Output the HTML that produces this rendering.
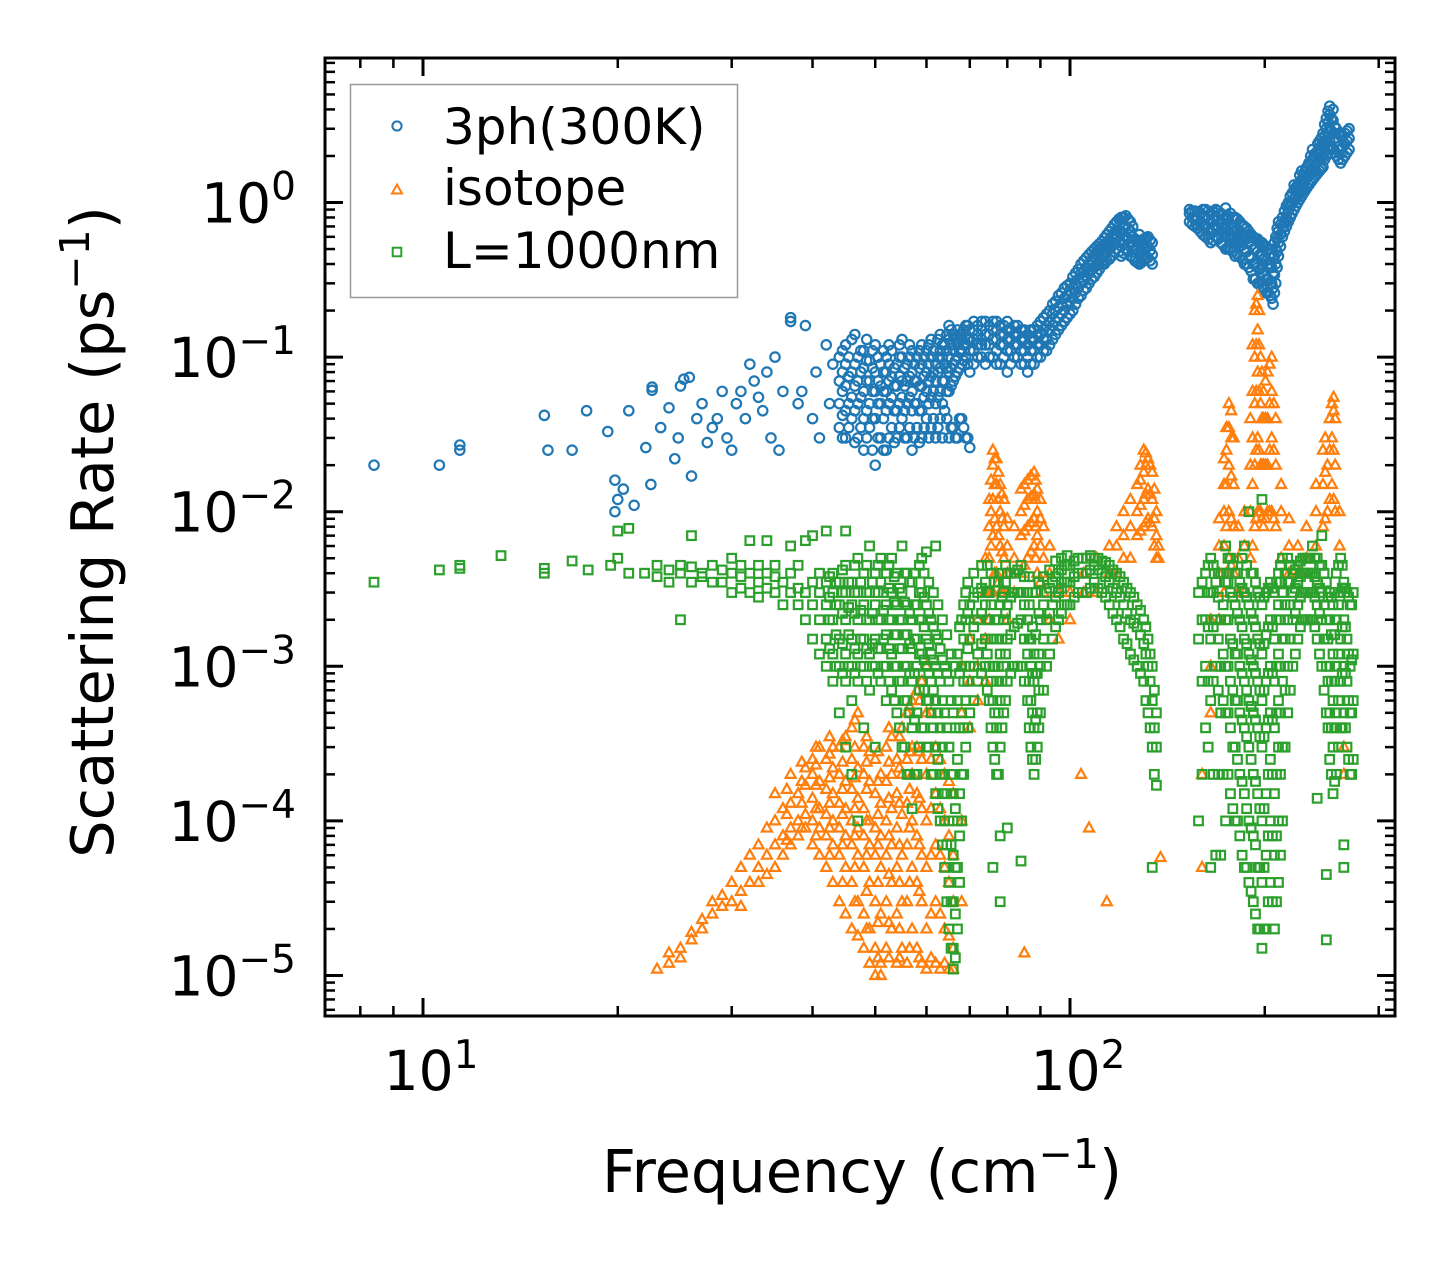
<!DOCTYPE html>
<html><head><meta charset="utf-8">
<style>
html,body{margin:0;padding:0;background:#fff;}
svg{display:block;font-family:"DejaVu Sans","Liberation Sans",sans-serif;}
</style></head>
<body>
<svg id="chart" width="1455" height="1265" viewBox="0 0 1455 1265" xmlns="http://www.w3.org/2000/svg">
<rect width="1455" height="1265" fill="#fff"/>
<g id="marks"></g>
<g id="axes"></g>
</svg>
<script>
// ---- data: each row = [frequency (cm^-1), rate1, rate2, ...] (ps^-1) ----
const threePhRows = [
[8.4,.020],[10.6,.020],[11.4,.027,.025],[15.4,.042],[15.6,.025],[17,.025],[17.9,.045],[19.3,.033],[19.8,.016,.010],[20,.012],[20.4,.014],[20.8,.045],[21.2,.011],[22.1,.026],[22.5,.015],[22.6,.064,.061],[23.3,.035],[24,.047],[24.5,.022],[24.8,.030],[25,.065],[25.3,.072],[25.8,.074],[26,.017],[26.5,.04],[27,.05],[27.5,.028],[28,.035],[28.5,.04],[29,.06],[29.5,.03],[30,.025],[30.5,.05],[31,.06],[31.5,.04],[32,.09],[32.5,.07],[33,.055],[33.5,.045],[34,.08],[34.5,.03],[35,.1],[35.5,.025],[36,.06],[37,.18,.17],[38,.05],[38.5,.06],[39,.16],[40,.04],[40.5,.08],[41,.03],[42,.12],[42.5,.05],[43,.09],
[44,.035,.05,.07,.1],[45,.03,.045,.065,.09,.12],[46,.04,.055,.08,.13],[47,.03,.05,.07,.1],[48,.025,.04,.06,.085,.11],[49,.035,.05,.07,.095],[50,.02,.04,.06,.08,.12],[51,.03,.05,.065,.09],[52,.025,.045,.06,.08,.1],[53,.035,.055,.075,.11],[54,.03,.045,.065,.09],[55,.04,.055,.07,.1,.13],[56,.03,.05,.07,.09],[57,.025,.045,.06,.08,.11],[58,.035,.05,.07,.1],[59,.03,.045,.065,.09,.12],[60,.04,.06,.08,.11],[61,.035,.055,.075,.1,.13],[62,.03,.05,.07,.09],[63,.04,.06,.085,.11,.14],[64,.045,.07,.09,.12],[65,.03,.06,.08,.1,.13,.16],[66,.035,.07,.09,.11,.14],[67,.03,.08,.1,.12,.15],[68,.04,.09,.11,.13],[69,.03,.1,.12,.14,.16],[70,.026,.08,.11,.13,.15],[72,.1,.12,.14,.16],[74,.09,.12,.14,.17],[76,.1,.13,.15,.17],[78,.09,.12,.14,.16],[80,.08,.11,.13,.15,.17],[82,.1,.12,.14,.16],[84,.09,.11,.13,.15],[86,.08,.1,.12,.14],[88,.09,.11,.13,.15],[90,.1,.12,.14,.17],[92,.11,.13,.16,.19],[94,.13,.16,.19,.22],[96,.15,.18,.21,.25],[98,.17,.2,.24,.28],[100,.19,.23,.27,.3],[102,.22,.26,.3,.35],[104,.25,.3,.35,.4],[106,.28,.33,.38,.44],[108,.32,.37,.42,.48],[110,.35,.4,.46,.52],[112,.4,.45,.5,.56],[114,.42,.48,.55,.62],[116,.45,.52,.6,.68],[118,.5,.58,.66,.75],[120,.45,.55,.65,.8],[122,.5,.6,.7,.82],[124,.45,.55,.65,.75],[126,.42,.5,.58],[128,.4,.48,.56,.62],[130,.42,.5,.58],[132,.44,.52,.6],[134,.4,.46,.55],
[153,.75,.85,.9],[156,.7,.8,.88],[159,.65,.75,.85],[162,.6,.7,.8,.9],[165,.55,.65,.75,.85],[168,.6,.7,.8,.9],[171,.55,.65,.75,.85],[174,.5,.6,.7,.8,.92],[177,.5,.6,.72,.85],[180,.45,.55,.65,.8],[183,.45,.55,.65,.75],[186,.4,.5,.6,.7],[189,.38,.45,.55,.65],[192,.32,.4,.5,.6],[195,.3,.38,.48,.58],[198,.28,.35,.45,.55],[201,.26,.32,.42,.52],[204,.25,.3,.4,.5],[206,.22,.28,.35,.45],[208,.3,.4,.5,.6],[210,.45,.55,.65,.75],[213,.6,.7,.8],[216,.7,.8,.95],[219,.8,.95,1.1],[222,.9,1.05,1.2,1.3],[225,1.0,1.15,1.3],[228,1.1,1.25,1.4,1.6],[231,1.2,1.4,1.6],[234,1.3,1.5,1.8],[237,1.4,1.6,1.9,2.2],[240,1.5,1.8,2.1],[243,1.6,1.9,2.2,2.5],[246,1.7,2.0,2.4,2.8],[249,2.0,2.5,3.0,3.5],[252,2.5,3.0,3.7,4.2],[255,2.2,2.8,3.4,4.0],[258,2.0,2.5,3.0],[262,1.8,2.2,2.7],[266,2.0,2.4,2.8],[270,2.2,2.6,3.0]
];
const threePhDenseRows = [
[44.5,.03,.042,.06,.08,.11],[45.5,.035,.05,.075,.1],[46.5,.028,.045,.065,.09,.14],[47.5,.035,.055,.08,.11],[48.5,.03,.045,.07,.095,.13],[49.5,.025,.04,.06,.085,.11],[50.5,.03,.05,.07,.1],[51.5,.025,.04,.06,.08,.11],[52.5,.03,.05,.07,.09,.12],[53.5,.028,.045,.065,.085],[54.5,.035,.05,.075,.1,.12],[55.5,.03,.045,.065,.085],[56.5,.035,.055,.075,.1,.12],[57.5,.03,.05,.07,.09],[58.5,.028,.045,.065,.085,.11],[59.5,.035,.055,.075,.1],[60.5,.03,.05,.07,.09,.12],[61.5,.04,.06,.08,.11],[62.5,.035,.055,.08,.1,.13],[63.5,.03,.05,.07,.1,.12],[64.5,.04,.06,.085,.11,.14],[65.5,.035,.065,.085,.12,.15],[66.5,.03,.075,.095,.13],[67.5,.04,.085,.11,.14],[68.5,.035,.095,.12,.15],[69.5,.03,.09,.13,.16],
[71,.09,.11,.13,.15,.17],[73,.1,.12,.13,.15,.17],[75,.1,.12,.14,.16],[77,.09,.11,.13,.15,.17],[79,.1,.12,.14,.16],[81,.09,.11,.13,.15],[83,.1,.12,.14,.16],[85,.09,.11,.13,.15],[87,.09,.11,.13,.15],[89,.1,.12,.14,.16],[91,.11,.13,.15,.18],[93,.12,.15,.17,.2],[95,.14,.17,.2,.23],[97,.16,.19,.22,.26],[99,.18,.22,.25,.29],[101,.2,.24,.28,.33],[103,.24,.28,.32,.37],[105,.27,.31,.36,.42],[107,.3,.35,.4,.46],[109,.33,.38,.44,.5],[111,.37,.42,.48,.54],[113,.4,.46,.52,.59],[115,.43,.5,.57,.65],[117,.48,.55,.63,.72],[119,.48,.56,.66,.78],[121,.47,.57,.68,.8],[123,.48,.58,.68,.78],[125,.44,.52,.6,.7],[127,.41,.49,.57],[129,.41,.49,.57],[131,.43,.51,.59],[133,.42,.49,.57],
[154.5,.72,.8,.88],[157.5,.68,.78,.87],[160.5,.62,.72,.82,.9],[163.5,.58,.68,.78,.88],[166.5,.57,.67,.77,.87],[169.5,.58,.68,.78,.88],[172.5,.53,.63,.73,.83],[175.5,.5,.6,.7,.82],[178.5,.48,.58,.68,.8],[181.5,.46,.56,.66,.78],[184.5,.43,.53,.63,.72],[187.5,.4,.48,.58,.68],[190.5,.36,.44,.53,.62],[193.5,.32,.4,.5,.58],[196.5,.3,.37,.46,.56],[199.5,.28,.34,.43,.53],[202.5,.26,.32,.4,.5],[205,.24,.3,.38,.47],[207,.26,.34,.45,.55],[209,.38,.48,.58,.68],[211.5,.52,.62,.72],[214.5,.65,.75,.88],[217.5,.75,.88,1.0],[220.5,.85,1.0,1.15],[223.5,.95,1.1,1.25],[226.5,1.05,1.2,1.35,1.5],[229.5,1.15,1.3,1.5],[232.5,1.25,1.45,1.7],[235.5,1.35,1.55,1.85,2.0],[238.5,1.45,1.7,2.0],[241.5,1.55,1.85,2.15,2.4],[244.5,1.65,1.95,2.3,2.6],[247.5,1.9,2.3,2.7,3.2],[250.5,2.2,2.7,3.3,3.9],[253.5,2.3,2.9,3.5],[256.5,2.1,2.6,3.1],[260,1.9,2.3,2.8],[264,1.9,2.3,2.7],[268,2.1,2.5,2.9]
];
const isotopeRows = [
[23,1.1e-5],[24,1.2e-5,1.4e-5],[25,1.5e-5,1.3e-5],[26,1.7e-5,1.9e-5],[27,2e-5,2.3e-5],[28,2.5e-5,3e-5],[29,2.8e-5,3.3e-5],[30,3e-5,4e-5],[31,3.5e-5,5e-5,2.8e-5],[32,4e-5,6e-5],[33,5e-5,7e-5,4e-5],[34,6e-5,9e-5,4.5e-5],[35,7e-5,1e-4,1.5e-4,5e-5],[36,8e-5,1.2e-4,6e-5],[37,9e-5,1.3e-4,2e-4,7e-5],[38,1e-4,1.5e-4,8e-5],[39,1.1e-4,1.7e-4,2.2e-4,9e-5],[40,1e-4,1.4e-4,2e-4,2.5e-4,7e-5],[41,9e-5,1.2e-4,1.8e-4,3e-4,6e-5],[42,8e-5,1.1e-4,1.6e-4,2.5e-4,5e-5],[43,7e-5,1e-4,1.5e-4,2.2e-4,3e-4,4e-5],[44,6e-5,9e-5,1.3e-4,2e-4,3e-4,3e-5],[45,5e-5,8e-5,1.2e-4,1.8e-4,3.5e-4,2.5e-5],[46,4e-5,7e-5,1e-4,1.6e-4,2.5e-4,4e-4,2e-5],[47,3e-5,6e-5,9e-5,1.4e-4,2.2e-4,5e-4,1.8e-5],[48,2.5e-5,5e-5,8e-5,1.2e-4,2e-4,3e-4,1.5e-5],[49,2e-5,4e-5,7e-5,1e-4,1.8e-4,2.8e-4,1.2e-5],[50,1.5e-5,3e-5,6e-5,9e-5,1.5e-4,2.5e-4,1e-5],[51,1.2e-5,2.5e-5,5e-5,8e-5,1.3e-4,2e-4,1e-5],[52,1.5e-5,3e-5,6e-5,1e-4,1.8e-4,3e-4],[53,2e-5,4e-5,7e-5,1.2e-4,2e-4,3.5e-4],[54,1.2e-5,2.5e-5,5e-5,9e-5,1.5e-4,2.5e-4],[55,1.5e-5,3e-5,6e-5,1.1e-4,2e-4,4e-4],[56,1.2e-5,3e-5,7e-5,1.3e-4,2.5e-4,5e-4],[57,2e-5,5e-5,1e-4,2e-4,3e-4,6e-4],[58,1.5e-5,4e-5,8e-5,1.5e-4,3e-4,7e-4],[59,1.2e-5,3e-5,6e-5,1.2e-4,2.5e-4,8e-4],[60,1.1e-5,2e-5,5e-5,1e-4,2e-4,5e-4,1e-3],[62,1.2e-5,3e-5,7e-5,1.5e-4,3e-4],[64,1.2e-5,2e-5,5e-5,1e-4,2e-4],[66,1.1e-5,1.5e-5,3e-5,6e-5,1.5e-4],[68,3e-5,1e-4,5e-4,1e-3],[70,4e-4,8e-4,1.5e-3],[72,6e-4,1e-3,2e-3],[74,8e-4,1.5e-3,3e-3,5e-3],[75,2e-3,5e-3,8e-3,1.2e-2],[76,3e-3,7e-3,1.2e-2,2e-2,2.5e-2],[77,4e-3,8e-3,1.5e-2,2.2e-2],[78,3e-3,6e-3,1e-2,1.5e-2],[79,3e-3,5e-3,8e-3,1.2e-2],[80,2e-3,4e-3,6e-3,9e-3],[82,3e-3,5e-3,8e-3],[84,4e-3,7e-3,1e-2,1.4e-2],[86,5e-3,8e-3,1.2e-2,1.6e-2],[88,6e-3,9e-3,1.3e-2,1.8e-2],[89,4e-3,7e-3,1e-2,1.4e-2],[91,3e-3,5e-3,8e-3],[93,2e-3,4e-3,6e-3],[96,1.5e-3,3e-3],[100,2e-3,3e-3],[105,3e-3,4e-3],[110,3e-3,5e-3],[115,4e-3,6e-3],[118,4e-3,6e-3,8e-3],[121,5e-3,7e-3,1e-2],[124,5e-3,8e-3,1.2e-2],[127,7e-3,1e-2,1.5e-2],[130,8e-3,1.2e-2,1.8e-2,2.5e-2],[132,9e-3,1.4e-2,2.2e-2],[134,8e-3,1.2e-2,1.8e-2],[136,5e-3,7e-3,1e-2],[137,5e-3,6e-3],
[85,1.4e-5],[104,2e-4],[107,9e-5],[114,3e-5],[138,5.8e-5],[160,5e-5,2e-4],[165,5e-4,1e-3,2e-3],[170,2e-3,4e-3,6e-3,9e-3],[173,3e-3,6e-3,1e-2,1.5e-2,2.2e-2],[176,5e-3,1e-2,2e-2,3.5e-2,5e-2],[179,4e-3,8e-3,1.5e-2,3e-2],[182,3e-3,5e-3,8e-3],[186,3e-3,6e-3,1e-2],[190,5e-3,1e-2,2e-2,4e-2],[193,8e-3,2e-2,5e-2,.1,.2],[195,1e-2,3e-2,8e-2,.15,.25],[197,1e-2,2e-2,5e-2,.1],[199,8e-3,2e-2,4e-2,6e-2],[202,1e-2,2e-2,4e-2,8e-2],[205,1e-2,3e-2,6e-2,.1],[208,8e-3,2e-2,4e-2],[212,5e-3,1e-2,1.5e-2],[218,4e-3,6e-3,9e-3],[225,4e-3,6e-3],[232,5e-3,8e-3],[240,6e-3,1e-2,1.5e-2],[246,8e-3,1.5e-2,2.5e-2],[250,1e-2,2e-2],[254,1.5e-2,3e-2,5e-2],[257,1e-2,2e-2,4e-2],[261,6e-3,1e-2],[265,2e-4,3e-4]
];
const isotopeDenseRows = [
[36.5,7.5e-5,1.1e-4,1.6e-4],[38.5,9e-5,1.3e-4,1.8e-4,2.4e-4],[40.5,8e-5,1.2e-4,1.7e-4,2.3e-4,3e-4],[42.5,6e-5,9e-5,1.3e-4,1.9e-4,2.7e-4,3.5e-4],[44.5,4e-5,7e-5,1.1e-4,1.6e-4,2.4e-4,3.3e-4],[46.5,3e-5,5e-5,8e-5,1.2e-4,1.9e-4,3e-4,4.5e-4],[48.5,2e-5,3.5e-5,6e-5,1e-4,1.6e-4,2.4e-4,3.5e-4],[50.5,1.3e-5,2.2e-5,4e-5,7e-5,1.1e-4,1.8e-4,2.8e-4],[52.5,1.3e-5,2.2e-5,4.5e-5,8e-5,1.4e-4,2.4e-4,4e-4],[54.5,1.3e-5,2e-5,4e-5,7e-5,1.3e-4,2.2e-4,3.5e-4],[56.5,1.5e-5,4e-5,9e-5,1.6e-4,2.8e-4,5.5e-4],[58.5,1.3e-5,3.5e-5,7e-5,1.4e-4,2.8e-4,6e-4],[61,1.3e-5,2.5e-5,6e-5,1.2e-4,2.5e-4,5e-4],[63,1.1e-5,2.5e-5,6e-5,1.2e-4,2.5e-4],[65,1.1e-5,1.8e-5,4e-5,8e-5,1.8e-4],
[75.5,3e-3,6e-3,1e-2,1.6e-2],[76.5,4e-3,9e-3,1.5e-2,2.2e-2],[77.5,3.5e-3,7e-3,1.2e-2,1.8e-2],[78.5,3e-3,5.5e-3,9e-3,1.3e-2],[85,4.5e-3,7.5e-3,1.1e-2,1.5e-2],[87,5.5e-3,8.5e-3,1.25e-2,1.7e-2],[88.5,5e-3,8e-3,1.2e-2,1.6e-2],[90,3.5e-3,6e-3,9e-3,1.2e-2],[128.5,7.5e-3,1.1e-2,1.6e-2,2e-2],[131,8.5e-3,1.3e-2,2e-2,2.4e-2],[133,8.5e-3,1.3e-2,2e-2],[135,6e-3,9e-3,1.4e-2],[174.5,4e-3,8e-3,1.5e-2,2.5e-2,3.5e-2],[177.5,4.5e-3,9e-3,1.7e-2,3e-2,4.5e-2],[191.5,6e-3,1.5e-2,3e-2,6e-2,.12],[194,9e-3,2.5e-2,6e-2,.12,.22],[196,1e-2,2.5e-2,6e-2,.12,.2],[198,9e-3,2e-2,4e-2,8e-2],[200.5,9e-3,2e-2,4e-2,7e-2],[203.5,1e-2,2.5e-2,5e-2,9e-2],[206.5,9e-3,2.5e-2,5e-2],[248,9e-3,1.8e-2,3e-2],[252,1.2e-2,2.5e-2,4e-2],[255.5,1.2e-2,2.5e-2,4.5e-2,5.5e-2]
];
const boundaryRows = [
[8.4,3.5e-3],[10.6,4.2e-3],[11.4,4.3e-3,4.5e-3],[13.2,5.2e-3],[15.4,4e-3,4.3e-3],[17,4.8e-3],[18,4.2e-3],[19.5,4.5e-3],[20,5e-3,7.5e-3],[20.8,4e-3,7.8e-3],[22,4e-3],[23,3.8e-3,4.5e-3],[24,4.2e-3,3.5e-3],[25,4.5e-3,2e-3,4e-3],[26,4.4e-3,3.5e-3,7e-3],[27,4e-3,3.8e-3],[28,4.5e-3,3.5e-3],[29,3.5e-3,4.2e-3],[30,4e-3,3e-3,5e-3],[31,3.8e-3,4.5e-3,3.2e-3],[32,4e-3,3e-3,6.5e-3],[33,3.5e-3,4.5e-3,2.8e-3],[34,4e-3,3.2e-3,6.5e-3],[35,3.8e-3,3e-3,4.5e-3],[36,3.5e-3,2.5e-3],[37,3e-3,4e-3,6e-3],[38,3.2e-3,2.5e-3,4.5e-3],[39,3e-3,6.5e-3,2e-3],[40,2.5e-3,3.5e-3,1.5e-3,7e-3],[41,2e-3,3e-3,1.2e-3,4e-3],[42,1.5e-3,2.5e-3,3.5e-3,1e-3,7.5e-3],[43,1.2e-3,2e-3,3e-3,4e-3,8e-4],[44,1e-3,1.5e-3,2.5e-3,3.5e-3,5e-4],[45,8e-4,1.2e-3,2e-3,3e-3,4.5e-3,3e-4,7.5e-3],[46,1e-3,1.5e-3,2.5e-3,3.5e-3,6e-4,2e-4],[47,8e-4,1.2e-3,2e-3,3e-3,5e-3,1e-4],[48,1e-3,1.5e-3,2.5e-3,4e-3,4e-4],[49,7e-4,1.2e-3,2e-3,3e-3,6e-3],[50,1e-3,1.5e-3,2.5e-3,4e-3,3e-4],[51,8e-4,1.3e-3,2e-3,3.5e-3,5e-3],[52,1e-3,1.6e-3,2.5e-3,4e-3,6e-4],[53,7e-4,1.2e-3,2e-3,3e-3,5e-3],[54,5e-4,1e-3,1.6e-3,2.5e-3,4e-3],[55,3e-4,8e-4,1.3e-3,2e-3,3e-3,6e-3],[56,2e-4,6e-4,1e-3,1.6e-3,2.5e-3,4e-3],[57,1.2e-4,4e-4,8e-4,1.3e-3,2e-3,3.5e-3],[58,2e-4,5e-4,1e-3,1.5e-3,2.5e-3],[59,4e-4,8e-4,1.2e-3,2e-3,3e-3,5e-3],[60,3e-4,6e-4,1e-3,1.5e-3,2.5e-3,5.5e-3],[61,2e-4,5e-4,8e-4,1.2e-3,2e-3],[62,1.5e-4,3e-4,6e-4,1e-3,1.6e-3,6e-3],[63,1e-4,2e-4,4e-4,8e-4,1.3e-3],[64,5e-5,1e-4,2e-4,5e-4,1e-3],[65,2e-5,4e-5,1e-4,3e-4,8e-4],[66,1.1e-5,1.5e-5,3e-5,6e-5,1.5e-4,5e-4],[67,2e-5,5e-5,1e-4,2.5e-4,6e-4,1.2e-3],[68,1e-4,2e-4,5e-4,1e-3,2e-3],[69,3e-4,6e-4,1e-3,2e-3,3e-3],[70,5e-4,1e-3,1.5e-3,2.5e-3],[72,8e-4,1.2e-3,2e-3,3e-3],[74,1e-3,1.5e-3,2.5e-3,3.5e-3],[75,6e-4,1e-3,2e-3,3e-3],[76,3e-4,6e-4,1e-3,5e-5],[77,2e-4,4e-4,8e-4,1.5e-3],[78,3e-4,6e-4,1.2e-3,2.5e-3,8e-5,3e-5],[79,5e-4,1e-3,2e-3,3e-3],[80,8e-4,1.5e-3,2.5e-3,4e-3,9e-5],[82,1e-3,1.8e-3,3e-3,4e-3],[84,1e-3,2e-3,3e-3,4.5e-3,5.5e-5],[86,6e-4,1.2e-3,2e-3,3e-3],[87,3e-4,6e-4,1e-3,1.5e-3],[88,2e-4,4e-4,8e-4,1.2e-3],[89,3e-4,5e-4,9e-4],[90,5e-4,1e-3,2e-3],[92,1e-3,2e-3,3e-3],[94,1.5e-3,2.5e-3,3.5e-3],[96,2e-3,3e-3,4e-3],[98,2.5e-3,3.5e-3,4.5e-3],[100,2.5e-3,3.5e-3,4.5e-3],[103,3e-3,4e-3,5e-3],[106,3e-3,4e-3,5e-3],[109,3.5e-3,4.5e-3,5e-3],[112,3e-3,4e-3,4.8e-3],[115,2.5e-3,3.5e-3,4.5e-3],[118,2e-3,3e-3,4e-3],[121,1.5e-3,2.5e-3,3.5e-3],[124,1.2e-3,2e-3,3e-3],[127,1e-3,1.8e-3,2.5e-3],[130,8e-4,1.4e-3,2e-3],[132,5e-4,1e-3,1.5e-3],[134,3e-4,6e-4,1e-3,5e-5],[135,2e-4,4e-4,7e-4],[136,1.7e-4,3e-4,5e-4],
[158,1e-4,1.5e-3,3e-3],[162,4e-4,1e-3,2e-3,4e-3],[165,5e-5,6e-4,1.5e-3,3e-3,5e-3],[168,6e-5,1e-3,2e-3,3.5e-3],[171,6e-5,5e-4,1e-3,2e-3,4e-3],[174,1e-4,5e-4,1e-3,2e-3,3.5e-3,6e-3],[177,1.5e-4,4e-4,8e-4,1.5e-3,3e-3,5e-3],[180,1e-4,3e-4,6e-4,1.2e-3,2.5e-3,4e-3],[183,8e-5,2e-4,5e-4,1e-3,2e-3,3.5e-3],[186,5e-5,1.5e-4,4e-4,8e-4,1.5e-3,3e-3,6e-3],[189,4e-5,1e-4,3e-4,6e-4,1.2e-3,2.5e-3,1e-2],[192,3e-5,8e-5,2e-4,5e-4,1e-3,2e-3,4e-3],[195,2e-5,5e-5,1.5e-4,4e-4,8e-4,1.5e-3,3e-3],[198,1.5e-5,4e-5,1e-4,3e-4,6e-4,1.2e-3,2.5e-3,1.2e-2],[201,2e-5,6e-5,1.5e-4,4e-4,8e-4,1.6e-3,3e-3],[204,4e-5,1e-4,2.5e-4,5e-4,1e-3,2e-3,3.5e-3],[207,2e-5,6e-5,1.5e-4,4e-4,8e-4,1.5e-3,3e-3],[210,4e-5,1e-4,3e-4,6e-4,1.2e-3,2.5e-3,4e-3],[213,1e-4,3e-4,8e-4,1.5e-3,3e-3,5e-3],[217,5e-4,1e-3,2e-3,3.5e-3,5e-3],[221,1e-3,2e-3,3e-3,4e-3],[225,1.5e-3,2.5e-3,3.5e-3,4.5e-3],[229,2e-3,3e-3,4e-3,5e-3],[233,2e-3,3e-3,4e-3,5e-3],[237,2e-3,3e-3,4e-3,6e-3],[241,1.5e-3,2.5e-3,3.5e-3,5e-3,1.4e-4],[245,1e-3,2e-3,3e-3,4.5e-3,7e-3],[249,5e-4,1e-3,2e-3,3.5e-3,1.7e-5,4.5e-5],[252,2.5e-4,5e-4,1e-3,2e-3,3e-3],[255,1.5e-4,3e-4,6e-4,1.2e-3,2.5e-3],[258,2e-4,5e-4,1e-3,2e-3,4e-3],[262,4e-4,8e-4,1.5e-3,3e-3,5e-3],[265,5e-4,1e-3,2e-3,3.5e-3,7e-5,5e-5],[268,3e-4,8e-4,1.5e-3,3e-3],[271,2e-4,5e-4,1e-3,2.5e-3],[274,2.5e-4,6e-4,1.2e-3,3e-3]
];
const boundaryDenseRows = [
[42.5,1.3e-3,2e-3,2.8e-3,3.8e-3],[43.5,1e-3,1.6e-3,2.5e-3,3.5e-3],[44.5,9e-4,1.4e-3,2.2e-3,3e-3,4.2e-3],[45.5,1e-3,1.6e-3,2.4e-3,3.5e-3],[46.5,9e-4,1.3e-3,2.2e-3,3e-3,4.5e-3],[47.5,1e-3,1.5e-3,2.3e-3,3.5e-3],[48.5,8e-4,1.3e-3,2e-3,3e-3,4.5e-3],[49.5,1e-3,1.4e-3,2.2e-3,3.5e-3],[50.5,9e-4,1.3e-3,2e-3,3e-3,4.5e-3],[51.5,1e-3,1.5e-3,2.3e-3,3e-3],[52.5,8e-4,1.3e-3,2e-3,3.2e-3,4.5e-3],[53.5,6e-4,1e-3,1.6e-3,2.6e-3,3.8e-3],[54.5,4e-4,8e-4,1.3e-3,2e-3,3.2e-3],[55.5,3e-4,6e-4,1e-3,1.6e-3,2.6e-3,4e-3],[56.5,2e-4,5e-4,9e-4,1.4e-3,2.2e-3,3.5e-3],[57.5,2e-4,4.5e-4,9e-4,1.5e-3,2.5e-3,4e-3],[58.5,3e-4,7e-4,1.2e-3,2e-3,3e-3,4.5e-3],[59.5,4e-4,7e-4,1.1e-3,1.8e-3,2.8e-3,4e-3],[60.5,3e-4,6e-4,9e-4,1.4e-3,2.2e-3,3.5e-3],[61.5,2e-4,4e-4,7e-4,1.1e-3,1.8e-3,3e-3],[62.5,1.2e-4,2.5e-4,5e-4,9e-4,1.5e-3,2.5e-3],[63.5,7e-5,1.5e-4,3e-4,6e-4,1.1e-3,2e-3],[64.5,3e-5,7e-5,1.5e-4,4e-4,9e-4,1.6e-3],[65.5,1.5e-5,3e-5,7e-5,2e-4,6e-4,1.2e-3],[66.5,1.3e-5,2.5e-5,5e-5,1.2e-4,4e-4,1e-3],[67.5,4e-5,8e-5,1.5e-4,4e-4,9e-4,1.8e-3],[68.5,2e-4,4e-4,8e-4,1.5e-3,2.5e-3],[69.5,4e-4,8e-4,1.3e-3,2.2e-3,3.5e-3],[71,6e-4,1e-3,1.8e-3,2.8e-3,4e-3],[73,9e-4,1.4e-3,2.2e-3,3.2e-3,4.5e-3],[74.5,7e-4,1.2e-3,2e-3,3e-3,4.5e-3],[75.5,4e-4,8e-4,1.5e-3,2.5e-3,4e-3],[76.5,2.5e-4,5e-4,1e-3,2e-3,3.5e-3],[77.5,2e-4,5e-4,1e-3,2e-3,3.5e-3],[78.5,4e-4,8e-4,1.5e-3,2.8e-3,4e-3],[79.5,6e-4,1.2e-3,2.2e-3,3.5e-3,4.5e-3],[81,9e-4,1.6e-3,2.8e-3,4e-3],[83,1e-3,1.9e-3,3e-3,4.2e-3],[85,8e-4,1.5e-3,2.5e-3,3.8e-3],[86.5,4e-4,8e-4,1.5e-3,2.5e-3,3.8e-3],[87.5,2.5e-4,5e-4,9e-4,1.8e-3,3e-3],[88.5,2.5e-4,4.5e-4,9e-4,1.6e-3,3e-3],[89.5,4e-4,7e-4,1.2e-3,2.2e-3,3.5e-3],[91,7e-4,1.5e-3,2.5e-3,3.8e-3],[93,1.2e-3,2.2e-3,3.2e-3,4.2e-3],[95,1.8e-3,2.8e-3,3.8e-3,4.8e-3],[97,2.2e-3,3.2e-3,4.2e-3,5e-3],[99,2.5e-3,3.5e-3,4.5e-3,5.2e-3],[101.5,2.8e-3,3.8e-3,4.8e-3],[104.5,3e-3,4e-3,5e-3],[107.5,3.2e-3,4.2e-3,5.2e-3],[110.5,3.2e-3,4.2e-3,5e-3],[113.5,2.8e-3,3.8e-3,4.7e-3],[116.5,2.2e-3,3.2e-3,4.2e-3],[119.5,1.8e-3,2.8e-3,3.8e-3],[122.5,1.4e-3,2.2e-3,3.2e-3],[125.5,1.1e-3,1.9e-3,2.8e-3],[128.5,9e-4,1.6e-3,2.3e-3],[131,6e-4,1.2e-3,1.8e-3],[133,4e-4,8e-4,1.2e-3],
[160,2e-4,8e-4,2e-3,3.5e-3],[163.5,3e-4,8e-4,1.8e-3,3e-3,4.5e-3],[166.5,2e-4,8e-4,1.8e-3,3e-3,4.5e-3],[169.5,2e-4,7e-4,1.5e-3,2.8e-3,4e-3],[172.5,2e-4,6e-4,1.2e-3,2.5e-3,4e-3],[175.5,2e-4,5e-4,1e-3,2e-3,3.5e-3,5e-3],[178.5,1.2e-4,3e-4,7e-4,1.4e-3,2.8e-3,4.5e-3],[181.5,1e-4,2.5e-4,6e-4,1.2e-3,2.2e-3,4e-3],[184.5,6e-5,1.8e-4,4.5e-4,9e-4,1.8e-3,3.2e-3,5e-3],[187.5,5e-5,1.2e-4,3.5e-4,7e-4,1.4e-3,2.8e-3,4.5e-3],[190.5,3.5e-5,9e-5,2.5e-4,5.5e-4,1.1e-3,2.2e-3,4e-3],[193.5,2.5e-5,7e-5,1.8e-4,4.5e-4,9e-4,1.8e-3,3.5e-3],[196.5,2e-5,5e-5,1.2e-4,3.5e-4,7e-4,1.4e-3,2.8e-3],[199.5,2e-5,5e-5,1.2e-4,3.5e-4,7e-4,1.4e-3,2.8e-3],[202.5,3e-5,8e-5,2e-4,4.5e-4,9e-4,1.8e-3,3.2e-3],[205.5,3e-5,8e-5,2e-4,4.5e-4,9e-4,1.8e-3,3.2e-3],[208.5,3e-5,8e-5,2e-4,5e-4,1e-3,2e-3,3.5e-3],[211.5,6e-5,2e-4,5e-4,1e-3,2e-3,3.5e-3,4.5e-3],[215,3e-4,7e-4,1.5e-3,2.5e-3,4e-3],[219,7e-4,1.5e-3,2.5e-3,3.5e-3,4.5e-3],[223,1.2e-3,2.2e-3,3.2e-3,4.2e-3],[227,1.8e-3,2.8e-3,3.8e-3,4.8e-3],[231,2e-3,3e-3,4e-3,5e-3],[235,2e-3,3e-3,4e-3,5e-3],[239,1.8e-3,2.8e-3,3.8e-3,5e-3],[243,1.2e-3,2.2e-3,3.2e-3,4.5e-3],[247,7e-4,1.5e-3,2.5e-3,4e-3],[250.5,4e-4,8e-4,1.5e-3,2.8e-3],[253.5,2e-4,4e-4,8e-4,1.6e-3,2.8e-3],[256.5,1.8e-4,4e-4,8e-4,1.6e-3,3e-3],[260,3e-4,6e-4,1.2e-3,2.5e-3,4.5e-3],[263.5,4e-4,9e-4,1.8e-3,3.2e-3,4.5e-3],[266.5,4e-4,9e-4,1.8e-3,3.2e-3],[269.5,2.5e-4,6e-4,1.2e-3,2.8e-3],[272.5,2e-4,5e-4,1.1e-3,2.5e-3]
];
const xTickExps = [1, 2];
const yTickExps = [0, -1, -2, -3, -4, -5];

// ---- axis functions ----
const X0 = 325, X1 = 1395, Y0 = 58, Y1 = 1016;
const DEC_X = 647, X_AT_100 = 1070;
const DEC_Y = 154.6, Y_AT_1 = 202.5;
function xs(f){ return X_AT_100 + DEC_X*(Math.log10(f)-2); }
function ys(v){ return Y_AT_1 - DEC_Y*Math.log10(v); }

const NS = 'http://www.w3.org/2000/svg';
const marks = document.getElementById('marks');
const axes = document.getElementById('axes');
function mk(tag, attrs, parent){ const e=document.createElementNS(NS,tag); for(const k in attrs) e.setAttribute(k,attrs[k]); parent.appendChild(e); return e; }

const clip = mk('clipPath',{id:'plotclip'},document.getElementById('chart'));
mk('rect',{x:X0,y:Y0,width:X1-X0,height:Y1-Y0},clip);
marks.setAttribute('clip-path','url(#plotclip)');

function circleMark(x,y,g){ return mk('circle',{cx:x,cy:y,r:4.7,fill:'none',stroke:'#1f77b4','stroke-width':2.2},g); }
function triMark(x,y,g){ return mk('polygon',{points:`${x},${y-5.5} ${x+5},${y+3.5} ${x-5},${y+3.5}`,fill:'none',stroke:'#ff7f0e','stroke-width':2.2},g); }
function sqMark(x,y,g){ return mk('rect',{x:x-4.3,y:y-4.3,width:8.6,height:8.6,fill:'none',stroke:'#2ca02c','stroke-width':2.2},g); }

function drawSeries(rowSets, fn, name){
  const g = mk('g',{},marks);
  
  
  rowSets.forEach(rows=>rows.forEach(r=>{
    const f=r[0];
    for(let i=1;i<r.length;i++){
      const el = fn(xs(f), ys(r[i]), g);
      
      
    }
  }));
}
drawSeries([threePhRows, threePhDenseRows], circleMark, '3ph-series');
drawSeries([isotopeRows, isotopeDenseRows], triMark, 'isotope-series');
drawSeries([boundaryRows, boundaryDenseRows], sqMark, 'boundary-series');

// frame
const frame = mk('rect',{x:X0,y:Y0,width:X1-X0,height:Y1-Y0,fill:'none',stroke:'#000','stroke-width':3},axes);



// x ticks
for(let d=0; d<=2; d++){
  for(let m=1;m<=9;m++){
    const f=m*Math.pow(10,d); const x=xs(f);
    if(x<X0-0.5||x>X1+0.5) continue;
    const L = m===1?18:10;
    const t1=mk('line',{x1:x,y1:Y1,x2:x,y2:Y1-L,stroke:'#000','stroke-width':m===1?3:2.5},axes);
    
    
    const t2=mk('line',{x1:x,y1:Y0,x2:x,y2:Y0+L,stroke:'#000','stroke-width':m===1?3:2.5},axes);
    
    
  }
}
xTickExps.forEach(e=>{
  const x=xs(Math.pow(10,e));
  const t=mk('text',{x:x+8,y:1090,'font-size':55,'text-anchor':'middle',fill:'#000'},axes);
  
  
  t.innerHTML='10<tspan dy="-22" font-size="39">'+e+'</tspan>';
});
// y ticks
for(let d=-6; d<=1; d++){
  for(let m=1;m<=9;m++){
    const v=m*Math.pow(10,d); const y=ys(v);
    if(y<Y0-0.5||y>Y1+0.5) continue;
    const L = m===1?18:10;
    const t1=mk('line',{x1:X0,y1:y,x2:X0+L,y2:y,stroke:'#000','stroke-width':m===1?3:2.5},axes);
    
    
    const t2=mk('line',{x1:X1,y1:y,x2:X1-L,y2:y,stroke:'#000','stroke-width':m===1?3:2.5},axes);
    
    
  }
}
yTickExps.forEach(e=>{
  const y=ys(Math.pow(10,e));
  const t=mk('text',{x:296,y:y+20,'font-size':55,'text-anchor':'end',fill:'#000'},axes);
  
  
  const lab = e<0 ? '\u2212'+(-e) : ''+e;
  t.innerHTML='10<tspan dy="-23" font-size="39">'+lab+'</tspan>';
});
</script>
<svg style="position:absolute;left:0;top:0" width="1455" height="1265" xmlns="http://www.w3.org/2000/svg" font-family="DejaVu Sans, Liberation Sans, sans-serif">
<text x="862" y="1192" font-size="59" text-anchor="middle" fill="#000">Frequency (cm<tspan dy="-24" font-size="41">−1</tspan><tspan dy="24">)</tspan></text>
<text transform="translate(113,532) rotate(-90)" x="0" y="0" font-size="59" text-anchor="middle" fill="#000">Scattering Rate (ps<tspan dy="-24" font-size="41">−1</tspan><tspan dy="24">)</tspan></text>
<g>
<rect x="350.5" y="84.5" width="387" height="213" fill="#fff" fill-opacity="0.8" stroke="#999" stroke-width="1.5"/>
<g>
<circle cx="397" cy="126" r="4.6" fill="none" stroke="#1f77b4" stroke-width="2"/>
<text x="443" y="144" font-size="50" fill="#000">3ph(300K)</text>
</g>
<g>
<polygon points="397,184.5 402,193.5 392,193.5" fill="none" stroke="#ff7f0e" stroke-width="2"/>
<text x="443" y="205" font-size="50" fill="#000">isotope</text>
</g>
<g>
<rect x="392.7" y="247.7" width="8.6" height="8.6" fill="none" stroke="#2ca02c" stroke-width="2"/>
<text x="443" y="268" font-size="50" fill="#000">L=1000nm</text>
</g>
</g>
</svg>
</body></html>
